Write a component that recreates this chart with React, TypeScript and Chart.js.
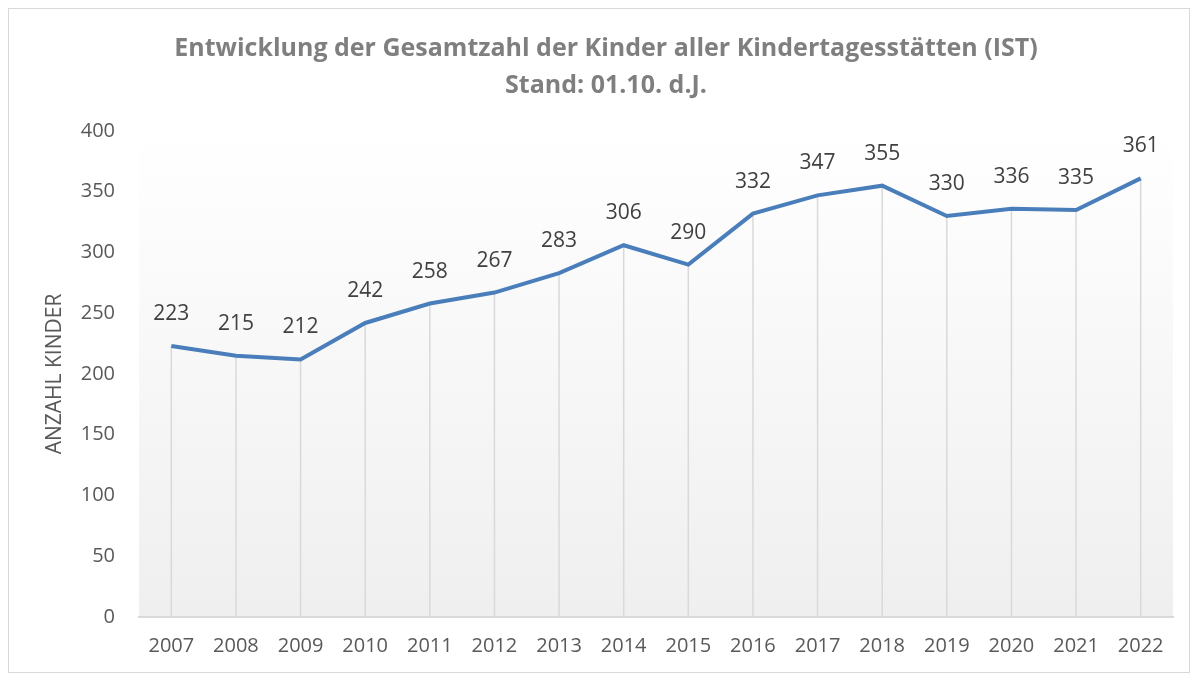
import React, { useEffect, useRef } from "react";
import { Chart, registerables } from "chart.js";

Chart.register(...registerables);

const years: string[] = ["2007","2008","2009","2010","2011","2012","2013","2014","2015","2016","2017","2018","2019","2020","2021","2022"];
const kinder: number[] = [223, 215, 212, 242, 258, 267, 283, 306, 290, 332, 347, 355, 330, 336, 335, 361];
const titleLines: string[] = ["Entwicklung der Gesamtzahl der Kinder aller Kindertagesstätten (IST)", "Stand: 01.10. d.J."];
const yAxisTitle = "ANZAHL KINDER";

const FONT = "'Open Sans', 'DejaVu Sans', sans-serif";

const bgPlugin = {
  id: "bgGradient",
  beforeDraw(chart: any) {
    const { ctx, chartArea } = chart;
    if (!chartArea) return;
    const g = ctx.createLinearGradient(0, chartArea.top, 0, chartArea.bottom);
    g.addColorStop(0, "#ffffff");
    g.addColorStop(1, "#efefef");
    ctx.save();
    ctx.fillStyle = g;
    ctx.fillRect(chartArea.left, chartArea.top, chartArea.right - chartArea.left, chartArea.bottom - chartArea.top);
    ctx.restore();
  },
};

const dropLinesPlugin = {
  id: "dropLines",
  beforeDatasetsDraw(chart: any) {
    const { ctx, chartArea } = chart;
    const meta = chart.getDatasetMeta(0);
    ctx.save();
    ctx.strokeStyle = "#d9d9d9";
    ctx.lineWidth = 1.5;
    meta.data.forEach((pt: any) => {
      ctx.beginPath();
      ctx.moveTo(pt.x, pt.y);
      ctx.lineTo(pt.x, chartArea.bottom);
      ctx.stroke();
    });
    ctx.restore();
  },
};

const labelsPlugin = {
  id: "valueLabels",
  afterDatasetsDraw(chart: any) {
    const { ctx } = chart;
    const meta = chart.getDatasetMeta(0);
    const data = chart.data.datasets[0].data;
    ctx.save();
    ctx.fillStyle = "#404040";
    ctx.font = `21px ${FONT}`;
    ctx.textAlign = "center";
    ctx.textBaseline = "middle";
    meta.data.forEach((pt: any, i: number) => {
      ctx.fillText(String(data[i]), pt.x, pt.y - 32);
    });
    ctx.restore();
  },
};

export default function App() {
  const ref = useRef<HTMLCanvasElement | null>(null);
  useEffect(() => {
    if (!ref.current) return;
    const chart = new Chart(ref.current, {
      type: "line",
      data: {
        labels: years,
        datasets: [
          {
            data: kinder,
            borderColor: "#4a7ebb",
            borderWidth: 4,
            pointRadius: 0,
            tension: 0,
            fill: false,
          },
        ],
      },
      options: {
        animation: false,
        responsive: false,
        maintainAspectRatio: false,
        layout: { padding: { left: 14, right: 0, top: 0, bottom: 0 } },
        plugins: {
          legend: { display: false },
          tooltip: { enabled: false },
          title: {
            display: true,
            text: titleLines,
            color: "#7f7f7f",
            font: { family: FONT, size: 25, weight: "bold", lineHeight: 1.48 },
            padding: { top: 21, bottom: 27 },
          },
        },
        scales: {
          x: {
            offset: true,
            grid: { display: false, drawTicks: false },
            border: { display: true, color: "#d9d9d9", width: 2 },
            ticks: { color: "#595959", font: { family: FONT, size: 20 }, padding: 17, maxRotation: 0, autoSkip: false },
            afterFit(scale: any) { scale.height = 55; },
          },
          y: {
            min: 0,
            max: 400,
            grid: { display: false, drawTicks: false },
            border: { display: false },
            ticks: { stepSize: 50, color: "#595959", font: { family: FONT, size: 20 }, padding: 24 },
            title: { display: true, text: yAxisTitle, color: "#595959", font: { family: FONT, size: 21 }, padding: { top: 19, bottom: 0 } },
            afterFit(scale: any) { scale.width = 116; },
          },
          y2: {
            position: "right",
            min: 0,
            max: 400,
            grid: { display: false, drawTicks: false },
            border: { display: false },
            ticks: { display: false },
            afterFit(scale: any) { scale.width = 16; },
          },
        },
      },
      plugins: [bgPlugin, dropLinesPlugin, labelsPlugin],
    });
    return () => chart.destroy();
  }, []);
  return (
    <div style={{ width: 1182, height: 665, border: "1px solid #d9d9d9", boxSizing: "border-box" }}>
      <canvas ref={ref} width={1180} height={663} style={{ display: "block" }} />
    </div>
  );
}
